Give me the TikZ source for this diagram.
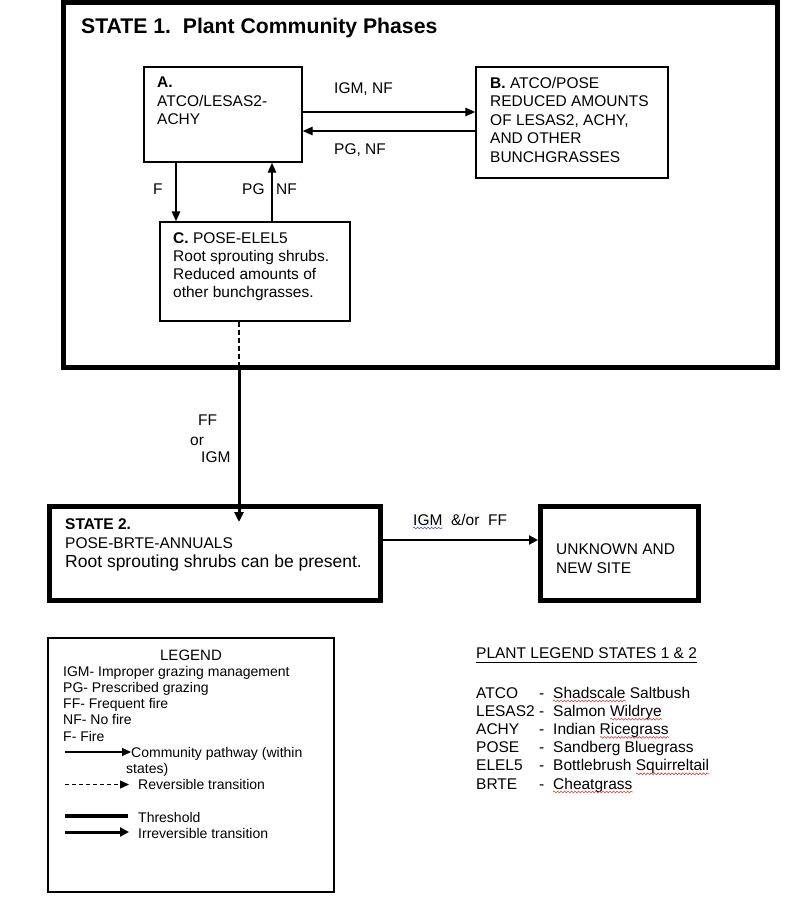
\documentclass[tikz,border=0pt]{standalone}
\usepackage{fontspec}
\setmainfont{Liberation Sans}
\usetikzlibrary{arrows.meta,decorations.pathmorphing,calc}
\definecolor{squigred}{RGB}{215,60,60}
\definecolor{squigblue}{RGB}{70,80,210}
\begin{document}
\begin{tikzpicture}[x=1pt,y=-1pt,
  thinbox/.style={draw, line width=1.4pt, inner sep=0pt},
  statebox/.style={draw, line width=5pt, inner sep=0pt},
  boxtxt/.style={inner sep=0pt, align=left, anchor=north west, font=\fontsize{15.5}{18.5}\selectfont},
  lab/.style={inner sep=0pt, anchor=base west, font=\fontsize{15.5}{18.5}\selectfont},
  leg/.style={inner sep=0pt, anchor=base west, font=\fontsize{14}{16.3}\selectfont},
  plant/.style={inner sep=0pt, anchor=base west, font=\fontsize{15.5}{18.2}\selectfont},
  ghost/.style={inner sep=0pt, anchor=base west, font=\fontsize{15.5}{18.2}\selectfont},
  arr/.style={line width=1.4pt, -{Triangle[length=10pt,width=8.5pt]}},
  dasharr/.style={line width=1.3pt, dash pattern=on 5pt off 3pt},
  bigarr/.style={line width=3pt, -{Triangle[length=10pt,width=9pt]}},
  midarr/.style={line width=2.5pt, -{Triangle[length=9pt,width=9pt]}},
  squig/.style={line width=0.6pt, decorate, decoration={snake, amplitude=0.9pt, segment length=3.5pt}},
]
\useasboundingbox (0,0) rectangle (800,906);
\fill[white] (0,0) rectangle (800,906);

% ---------- State 1 ----------
\node[statebox, minimum width=714pt, minimum height=364.5pt] (S1) at (420,184.75) {};
\node[inner sep=0pt, anchor=base west, font=\fontsize{21.2}{24}\selectfont\bfseries] (title) at (81,33) {STATE 1.\ \ Plant Community Phases};

\node[thinbox, minimum width=158pt, minimum height=95pt] (A) at (223,114.5) {};
\node[boxtxt] (Atxt) at (157,76.9) {\textbf{A.}\\ATCO/LESAS2-\\ACHY};

\node[thinbox, minimum width=192pt, minimum height=111pt] (B) at (572,122.5) {};
\node[boxtxt] (Btxt) at (490,76.7) {\textbf{B.} ATCO/POSE\\REDUCED AMOUNTS\\OF LESAS2, ACHY,\\AND OTHER\\BUNCHGRASSES};

\node[thinbox, minimum width=190pt, minimum height=99pt] (C) at (255,271.5) {};
\node[boxtxt, font=\fontsize{15.5}{18}\selectfont] (Ctxt) at (173,232.6) {\textbf{C.} POSE-ELEL5\\Root sprouting shrubs.\\Reduced amounts of\\other bunchgrasses.};

% pathways A <-> B
\draw[arr] ([yshift=2.5pt]A.east) -- ([yshift=2.5pt]A.east -| B.west);
\draw[arr] ([yshift=-16.5pt]A.east -| B.west) -- ([yshift=-16.5pt]A.east);
\node[lab] (lIGMNF) at (334,93) {IGM, NF};
\node[lab] (lPGNF) at (334,154) {PG, NF};

% pathways A <-> C
\draw[arr] ([xshift=-47pt]A.south) -- ([xshift=-47pt]A.south |- C.north);
\draw[arr] ([xshift=49pt]A.south |- C.north) -- ([xshift=49pt]A.south);
\node[lab] (lF) at (153,194) {F};
\node[lab] (lPG) at (242,194) {PG};
\node[lab] (lNF) at (276,194) {NF};

% ---------- State 2 and unknown ----------
\node[statebox, minimum width=331pt, minimum height=94pt] (S2) at (215,553.5) {};
\node[boxtxt] (S2txt) at (65,518.9) {\textbf{STATE 2.}\\POSE-BRTE-ANNUALS};
\node[inner sep=0pt, anchor=base west, font=\fontsize{17.5}{20}\selectfont] (S2txt3) at (65,567) {Root sprouting shrubs can be present.};

\node[statebox, minimum width=158pt, minimum height=94pt] (U) at (619.5,553.5) {};
\node[boxtxt] (Utxt) at (556,543.9) {UNKNOWN AND\\NEW SITE};

% transition State 1 -> State 2
\coordinate (d1) at ([xshift=-16pt]C.south);
\draw[dasharr] (d1) -- (d1 |- S1.south);
\draw[bigarr] (d1 |- S1.south) -- ([yshift=-18pt]d1 |- S2.north);
\node[lab] (lFF) at (198,425) {FF};
\node[lab] (lor) at (190,445) {or};
\node[lab] (lIGM) at (201,462) {IGM};

% transition State 2 -> unknown
\draw[midarr] ([yshift=13.5pt]S2.east) -- ([yshift=13.5pt]S2.east -| U.west);
\node[lab] (lIGMFF) at (413,525) {IGM\ \ \&/or\ \ FF};
\node[ghost] (gIGM) at (lIGMFF.base west) {\phantom{IGM}};
\draw[squig, squigblue] ([yshift=-3pt]gIGM.base west) -- ([yshift=-3pt]gIGM.base east);

% ---------- Legend ----------
\node[draw, line width=1.5pt, inner sep=0pt, minimum width=286pt, minimum height=254pt] (L) at (191,765) {};
\node[inner sep=0pt, anchor=base, font=\fontsize{15}{17}\selectfont] (Ltitle) at (191,660) {LEGEND};
\node[leg] (L1) at (63,676) {IGM- Improper grazing management};
\node[leg] (L2) at (63,692) {PG- Prescribed grazing};
\node[leg] (L3) at (63,708) {FF- Frequent fire};
\node[leg] (L4) at (63,724.5) {NF- No fire};
\node[leg] (L5) at (63,741) {F- Fire};
\coordinate (k1a) at (65,752);
\node[leg] (L6) at (131,757) {Community pathway (within};
\node[leg] (L7) at (126,773) {states)};
\draw[line width=1.3pt, -{Triangle[length=9pt,width=8pt]}] (k1a) -- (k1a -| L6.west);
\coordinate (k2a) at (65,784.5);
\node[leg] (L8) at (138,789.5) {Reversible transition};
\draw[line width=1.3pt, dash pattern=on 4pt off 3pt, -{Triangle[length=9pt,width=8pt]}] (k2a) -- ([xshift=-9pt]k2a -| L8.west);
\coordinate (k3a) at (65,816);
\node[leg] (L9) at (138,822) {Threshold};
\draw[line width=4.5pt] (k3a) -- ([xshift=-10pt]k3a -| L9.west);
\coordinate (k4a) at (65,832);
\node[leg] (L10) at (138,838) {Irreversible transition};
\draw[line width=3pt, -{Triangle[length=9pt,width=9pt]}] (k4a) -- ([xshift=-9pt]k4a -| L10.west);

% ---------- Plant legend ----------
\node[plant] (PT) at (476,658) {PLANT LEGEND STATES 1 \& 2};
\draw[line width=1pt] ([yshift=-4.5pt]PT.base west) -- ([yshift=-4.5pt]PT.base east);

\node[plant] (c1) at (476,698) {ATCO};
\node[plant] (c2) at (476,716.2) {LESAS2};
\node[plant] (c3) at (476,734.4) {ACHY};
\node[plant] (c4) at (476,752.6) {POSE};
\node[plant] (c5) at (476,770.8) {ELEL5};
\node[plant] (c6) at (476,789) {BRTE};
\foreach \i/\y in {1/698,2/716.2,3/734.4,4/752.6,5/770.8,6/789}
  \node[plant] (h\i) at (539,\y) {-};
\node[plant] (n1) at (553,698) {Shadscale Saltbush};
\node[plant] (n2) at (553,716.2) {Salmon Wildrye};
\node[plant] (n3) at (553,734.4) {Indian Ricegrass};
\node[plant] (n4) at (553,752.6) {Sandberg Bluegrass};
\node[plant] (n5) at (553,770.8) {Bottlebrush Squirreltail};
\node[plant] (n6) at (553,789) {Cheatgrass};

% spell-check squiggles
\node[ghost] (g1) at (n1.base west) {\phantom{Shadscale}};
\draw[squig, squigred] ([yshift=-3pt]g1.base west) -- ([yshift=-3pt]g1.base east);
\node[ghost] (g2a) at (n2.base west) {\phantom{Salmon\ }};
\draw[squig, squigred] ([yshift=-3pt]g2a.base east) -- ([yshift=-3pt]n2.base east);
\node[ghost] (g3a) at (n3.base west) {\phantom{Indian\ }};
\draw[squig, squigred] ([yshift=-3pt]g3a.base east) -- ([yshift=-3pt]n3.base east);
\node[ghost] (g5a) at (n5.base west) {\phantom{Bottlebrush\ }};
\draw[squig, squigred] ([yshift=-3pt]g5a.base east) -- ([yshift=-3pt]n5.base east);
\draw[squig, squigred] ([yshift=-3pt]n6.base west) -- ([yshift=-3pt]n6.base east);
\end{tikzpicture}
\end{document}
